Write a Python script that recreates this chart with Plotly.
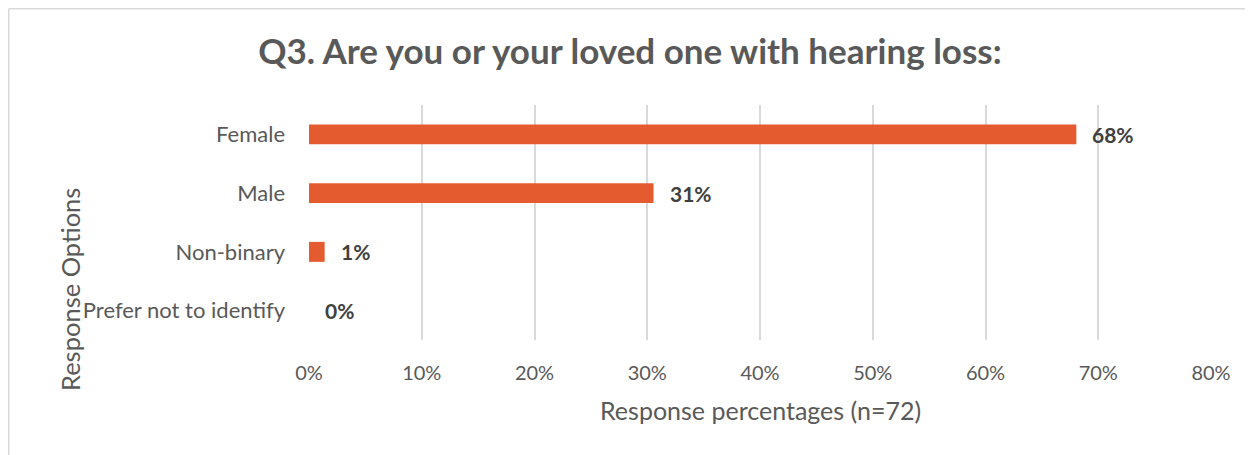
import plotly.graph_objects as go

categories = ["Female", "Male", "Non-binary", "Prefer not to identify"]
shares = [49 / 72, 22 / 72, 1 / 72, 0.0]
labels = ["68%", "31%", "1%", "0%"]
x_ticks = [0, 0.1, 0.2, 0.3, 0.4, 0.5, 0.6, 0.7, 0.8]

# the page body adds an 8px margin, so the figure is drawn 8px smaller
OFF = 8
W, H = 1253 - OFF, 455 - OFF
L, T = 309 - OFF, 105 - OFF
R = W - (1211 - OFF)
B = H - (340 - OFF)
PW, PH = W - L - R, H - T - B


def px_x(px):
    # reference-picture x pixel -> paper coordinate
    return (px - OFF - L) / PW


def px_y(py):
    return (H - B - (py - OFF)) / PH


FONT = "Lato, 'Open Sans', sans-serif"
BAR = "#E55B30"
TXT = "#595959"
GRID = "#D9D9D9"

fig = go.Figure(
    go.Bar(
        x=shares,
        y=categories,
        orientation="h",
        width=0.34,
        marker=dict(color=BAR, line=dict(width=0)),
        hoverinfo="skip",
    )
)

for cat, val, lab in zip(categories, shares, labels):
    fig.add_annotation(
        x=val, y=cat, text=f"<b>{lab}</b>", showarrow=False,
        xanchor="left", xshift=14,
        font=dict(family=FONT, size=21, color="#404040"),
    )

# axis titles
fig.add_annotation(
    x=px_x(70), y=px_y(290), xref="paper", yref="paper",
    xanchor="center", yanchor="middle",
    text="Response Options", textangle=-90, showarrow=False,
    font=dict(family=FONT, size=25.5, color=TXT),
)
fig.add_annotation(
    x=0.5, y=px_y(410), xref="paper", yref="paper",
    xanchor="center", yanchor="middle",
    text="Response percentages (n=72)", showarrow=False,
    font=dict(family=FONT, size=25, color=TXT),
)

# chart border (top and left only visible)
for x0, y0, x1, y1 in [(8.75, 8.75, 1260, 8.75), (8.75, 8.75, 8.75, 460)]:
    fig.add_shape(
        type="line", xref="paper", yref="paper",
        x0=px_x(x0), y0=px_y(y0), x1=px_x(x1), y1=px_y(y1),
        line=dict(color=GRID, width=1.5),
    )

fig.update_layout(
    width=W, height=H,
    margin=dict(l=L, r=R, t=T, b=B),
    paper_bgcolor="white",
    plot_bgcolor="white",
    showlegend=False,
    title=dict(
        text="<b>Q3. Are you or your loved one with hearing loss:</b>",
        x=(630 - OFF) / W, xref="container", xanchor="center",
        y=1 - (52 - OFF) / H, yanchor="middle",
        font=dict(family=FONT, size=35, color=TXT),
    ),
    font=dict(family=FONT, color=TXT),
)
fig.update_xaxes(
    range=[0, 0.8],
    tickvals=x_ticks,
    tickformat=".0%",
    showgrid=True, gridcolor=GRID, gridwidth=1.5,
    zeroline=False, showline=False,
    tickfont=dict(family=FONT, size=20, color=TXT),
    ticklabelstandoff=19,
    fixedrange=True,
)
fig.update_yaxes(
    categoryorder="array", categoryarray=categories,
    autorange="reversed",
    showgrid=False, zeroline=False, showline=False,
    tickfont=dict(family=FONT, size=22, color=TXT),
    ticklabelstandoff=23,
    fixedrange=True,
)

fig.write_html("out.html", config={"displayModeBar": False})
